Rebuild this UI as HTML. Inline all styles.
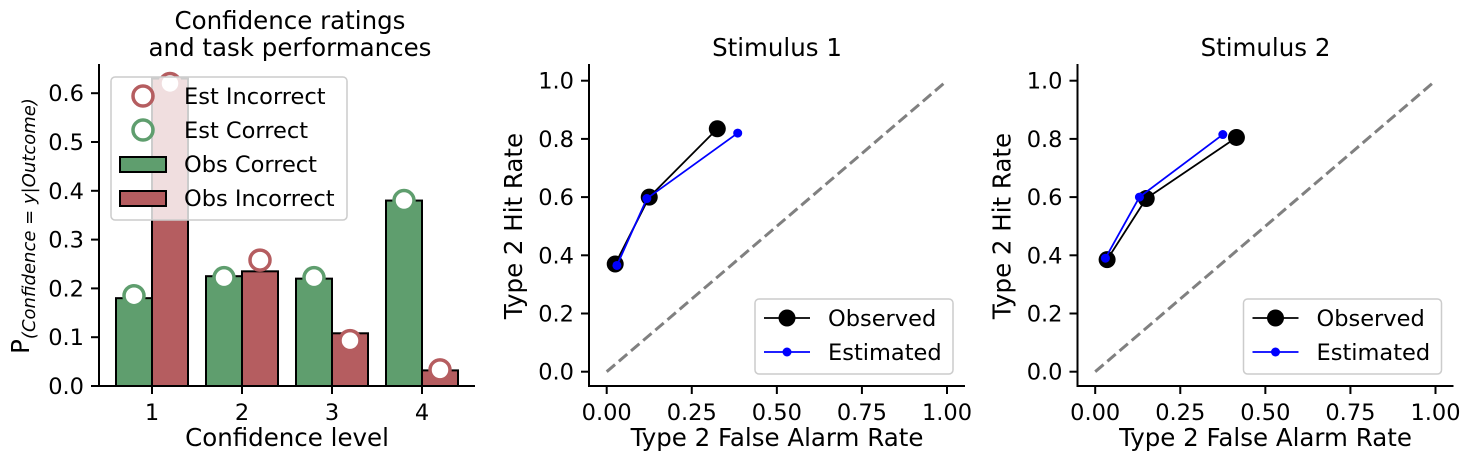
<!DOCTYPE html>
<html><head><meta charset="utf-8">
<style>
html,body{margin:0;padding:0;background:#fff;}
svg{display:block;font-family:"DejaVu Sans","Liberation Sans",sans-serif;}
</style></head>
<body>
<svg id="c" width="1471" height="466" viewBox="0 0 1471 466" xmlns="http://www.w3.org/2000/svg"></svg>
<script>
const levels = [1, 2, 3, 4];
const obsCorrect = [0.18, 0.225, 0.22, 0.38];
const obsIncorrect = [0.63, 0.235, 0.108, 0.032];
const estCorrect = [0.185, 0.222, 0.222, 0.38];
const estIncorrect = [0.62, 0.258, 0.093, 0.033];
const barTicks = [0.0, 0.1, 0.2, 0.3, 0.4, 0.5, 0.6];
const rocTicks = [0.0, 0.2, 0.4, 0.6, 0.8, 1.0];
const rocXTicks = [0.0, 0.25, 0.5, 0.75, 1.0];
const s1ObsFA = [0.025, 0.125, 0.325];
const s1ObsHR = [0.37, 0.6, 0.835];
const s1EstFA = [0.03, 0.118, 0.385];
const s1EstHR = [0.365, 0.595, 0.82];
const s2ObsFA = [0.035, 0.15, 0.415];
const s2ObsHR = [0.385, 0.595, 0.805];
const s2EstFA = [0.03, 0.13, 0.375];
const s2EstHR = [0.39, 0.6, 0.815];

const TICK = 22.5, LAB = 24.5, LEG = 22.5;
const svg = document.getElementById('c');
const NS = 'http://www.w3.org/2000/svg';
function el(tag, attrs, parent, text) {
  const e = document.createElementNS(NS, tag);
  for (const k in attrs) e.setAttribute(k, attrs[k]);
  if (text !== undefined) e.textContent = text;
  (parent || svg).appendChild(e);
  return e;
}

// ---------- Panel 1: bars ----------
const bx = v => 152 + (v - 1) * 90;
const by = v => 386 - v * 488;
const p1 = el('g', {});


levels.forEach((l, i) => {
  const g = el('rect', {x: bx(l) - 36, y: by(obsCorrect[i]), width: 36, height: 386 - by(obsCorrect[i]), fill: '#5f9e6e', stroke: '#000', 'stroke-width': 2}, p1);
  
  
  const r = el('rect', {x: bx(l), y: by(obsIncorrect[i]), width: 36, height: 386 - by(obsIncorrect[i]), fill: '#b55d60', stroke: '#000', 'stroke-width': 2}, p1);
  
  
});
levels.forEach((l, i) => {
  const a = el('circle', {cx: bx(l - 0.2), cy: by(estCorrect[i]), r: 10, fill: '#fff', stroke: '#5f9e6e', 'stroke-width': 3.5}, p1);
  
  
  const b = el('circle', {cx: bx(l + 0.2), cy: by(estIncorrect[i]), r: 10, fill: '#fff', stroke: '#b55d60', 'stroke-width': 3.5}, p1);
  
  
});
el('line', {x1: 99, y1: 64, x2: 99, y2: 387, stroke: '#000', 'stroke-width': 2}, p1);
el('line', {x1: 98, y1: 386, x2: 475, y2: 386, stroke: '#000', 'stroke-width': 2}, p1);
barTicks.forEach(t => {
  el('line', {x1: 91, y1: by(t), x2: 99, y2: by(t), stroke: '#000', 'stroke-width': 2}, p1);
  const tx = el('text', {x: 84, y: by(t) + 8, 'font-size': TICK, 'text-anchor': 'end'}, p1, t.toFixed(1));
  
  
});
levels.forEach(l => {
  el('line', {x1: bx(l), y1: 386, x2: bx(l), y2: 394, stroke: '#000', 'stroke-width': 2}, p1);
  const tx = el('text', {x: bx(l), y: 420, 'font-size': TICK, 'text-anchor': 'middle'}, p1, String(l));
  
  
});
const lg = el('g', {}, p1);


el('rect', {x: 111, y: 77, width: 236, height: 143, rx: 4, fill: 'rgba(255,255,255,0.8)', stroke: '#ccc', 'stroke-width': 1.5}, lg);
el('circle', {cx: 143, cy: 96, r: 10, fill: 'none', stroke: '#b55d60', 'stroke-width': 3.5}, lg);
el('text', {x: 184, y: 104, 'font-size': LEG}, lg, 'Est Incorrect');
el('circle', {cx: 143, cy: 130, r: 10, fill: 'none', stroke: '#5f9e6e', 'stroke-width': 3.5}, lg);
el('text', {x: 184, y: 138, 'font-size': LEG}, lg, 'Est Correct');
el('rect', {x: 120, y: 157, width: 46, height: 15, fill: '#5f9e6e', stroke: '#000', 'stroke-width': 2}, lg);
el('text', {x: 184, y: 172, 'font-size': LEG}, lg, 'Obs Correct');
el('rect', {x: 120, y: 191, width: 46, height: 15, fill: '#b55d60', stroke: '#000', 'stroke-width': 2}, lg);
el('text', {x: 184, y: 206, 'font-size': LEG}, lg, 'Obs Incorrect');
const t1 = el('text', {x: 290, y: 29, 'font-size': LAB, 'text-anchor': 'middle'}, p1, 'Confidence ratings');


el('text', {x: 290, y: 56, 'font-size': LAB, 'text-anchor': 'middle'}, p1, 'and task performances');
const xl = el('text', {x: 287, y: 446, 'font-size': LAB, 'text-anchor': 'middle'}, p1, 'Confidence level');


const yl = el('text', {transform: 'translate(29,226) rotate(-90)', 'font-size': LAB, 'text-anchor': 'middle'}, p1);


el('tspan', {}, yl, 'P');
el('tspan', {dy: 6, 'font-size': 18, 'font-style': 'italic'}, yl, '(Confidence = y|Outcome)');

// ---------- ROC panels ----------
function roc(off, title, oFA, oHR, eFA, eHR, name) {
  const x = v => 606.7 + off + v * 340.3;
  const y = v => 371.7 - v * 291;
  const g = el('g', {});
  
  
  el('line', {x1: x(0), y1: y(0), x2: x(1), y2: y(1), stroke: '#808080', 'stroke-width': 3, 'stroke-dasharray': '11,5'}, g);
  el('line', {x1: 589 + off, y1: 64, x2: 589 + off, y2: 387, stroke: '#000', 'stroke-width': 2}, g);
  el('line', {x1: 588 + off, y1: 386, x2: 965 + off, y2: 386, stroke: '#000', 'stroke-width': 2}, g);
  rocTicks.forEach(t => {
    el('line', {x1: 581 + off, y1: y(t), x2: 589 + off, y2: y(t), stroke: '#000', 'stroke-width': 2}, g);
    const tx = el('text', {x: 574 + off, y: y(t) + 8, 'font-size': TICK, 'text-anchor': 'end'}, g, t.toFixed(1));
    
    
  });
  rocXTicks.forEach(t => {
    el('line', {x1: x(t), y1: 386, x2: x(t), y2: 394, stroke: '#000', 'stroke-width': 2}, g);
    const tx = el('text', {x: x(t), y: 420, 'font-size': TICK, 'text-anchor': 'middle'}, g, t.toFixed(2));
    
    
  });
  const ol = el('polyline', {points: oFA.map((v, i) => x(v) + ',' + y(oHR[i])).join(' '), fill: 'none', stroke: '#000', 'stroke-width': 1.8}, g);
  
  
  oFA.forEach((v, i) => {
    const c = el('circle', {cx: x(v), cy: y(oHR[i]), r: 8.5, fill: '#000'}, g);
    
    
  });
  const nl = el('polyline', {points: eFA.map((v, i) => x(v) + ',' + y(eHR[i])).join(' '), fill: 'none', stroke: '#0000ff', 'stroke-width': 1.8}, g);
  
  
  eFA.forEach((v, i) => {
    const c = el('circle', {cx: x(v), cy: y(eHR[i]), r: 4.5, fill: '#0000ff'}, g);
    
    
  });
  const L = el('g', {}, g);
  
  
  el('rect', {x: 755 + off, y: 299, width: 198, height: 75, rx: 4, fill: 'rgba(255,255,255,0.8)', stroke: '#ccc', 'stroke-width': 1.5}, L);
  el('line', {x1: 764 + off, y1: 318, x2: 810 + off, y2: 318, stroke: '#000', 'stroke-width': 1.8}, L);
  el('circle', {cx: 787 + off, cy: 318, r: 8.5, fill: '#000'}, L);
  el('text', {x: 828 + off, y: 326, 'font-size': LEG}, L, 'Observed');
  el('line', {x1: 764 + off, y1: 352, x2: 810 + off, y2: 352, stroke: '#0000ff', 'stroke-width': 1.8}, L);
  el('circle', {cx: 787 + off, cy: 352, r: 4.5, fill: '#0000ff'}, L);
  el('text', {x: 828 + off, y: 360, 'font-size': LEG}, L, 'Estimated');
  const tt = el('text', {x: 777 + off, y: 56, 'font-size': LAB, 'text-anchor': 'middle'}, g, title);
  
  
  const xt = el('text', {x: 777 + off, y: 446, 'font-size': LAB, 'text-anchor': 'middle'}, g, 'Type 2 False Alarm Rate');
  
  
  const yt = el('text', {transform: 'translate(' + (522 + off) + ',226) rotate(-90)', 'font-size': LAB, 'text-anchor': 'middle'}, g, 'Type 2 Hit Rate');
  
  
}
roc(0, 'Stimulus 1', s1ObsFA, s1ObsHR, s1EstFA, s1EstHR, 'stimulus-1-roc');
roc(488.5, 'Stimulus 2', s2ObsFA, s2ObsHR, s2EstFA, s2EstHR, 'stimulus-2-roc');
</script>
</body></html>
